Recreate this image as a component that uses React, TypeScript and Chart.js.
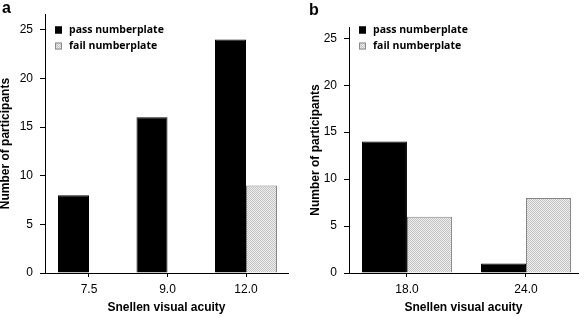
import React, { useEffect, useRef } from "react";
import { Chart, registerables } from "chart.js";

Chart.register(...registerables);

// ---- data ----
const categoriesA = ["7.5", "9.0", "12.0"];
const passA = [8, 16, 24];
const failA = [0, 0, 9];

const categoriesB = ["18.0", "24.0"];
const passB = [14, 1];
const failB = [6, 8];

const yTickValues = [0, 5, 10, 15, 20, 25];
const seriesNames = ["pass numberplate", "fail numberplate"];
const xTitle = "Snellen visual acuity";
const yTitle = "Number of participants";

const FONT = '"Liberation Sans", Arial, sans-serif';
const LEGEND_FONT = '"Open Sans", "DejaVu Sans", sans-serif';

function makePattern(ctx: CanvasRenderingContext2D) {
  const c = document.createElement("canvas");
  c.width = 2;
  c.height = 2;
  const p = c.getContext("2d")!;
  p.fillStyle = "#efefef";
  p.fillRect(0, 0, 2, 2);
  p.fillStyle = "#c2c2c2";
  p.fillRect(0, 0, 1, 1);
  p.fillRect(1, 1, 1, 1);
  return ctx.createPattern(c, "repeat")!;
}

const decorPlugin = {
  id: "decor",
  afterDraw(chart: any, _args: any, opts: any) {
    const ctx: CanvasRenderingContext2D = chart.ctx;
    const left = chart.chartArea.left;
    const pattern = makePattern(ctx);
    ctx.save();
    // panel letter
    ctx.fillStyle = "#000";
    ctx.font = `bold 16px ${FONT}`;
    ctx.textBaseline = "alphabetic";
    ctx.textAlign = "left";
    ctx.fillText(opts.letter, opts.letterX, opts.letterY);
    // legend
    const rows = [
      { fill: "#000", stroke: "#000" },
      { fill: pattern, stroke: "#8a8a8a" },
    ];
    ctx.font = `bold 10.5px ${LEGEND_FONT}`;
    ctx.textBaseline = "middle";
    rows.forEach((r, i) => {
      const y = opts.rowY[i];
      ctx.fillStyle = r.fill as any;
      ctx.fillRect(left + 10, y - 3.5, 7, 7);
      ctx.strokeStyle = r.stroke;
      ctx.lineWidth = 1;
      ctx.strokeRect(left + 10.5, y - 3, 6, 6);
      ctx.fillStyle = "#000";
      ctx.fillText(seriesNames[i], left + 24, y);
    });
    ctx.restore();
  },
};

type PanelProps = {
  width: number;
  labels: string[];
  pass: number[];
  fail: number[];
  xMin: number;
  xMax: number;
  yMax: number;
  padLeft: number;
  padRight: number;
  padTop: number;
  yScaleWidth: number;
  catPct: number;
  letter: string;
  letterX: number;
  letterY: number;
};

function Panel(p: PanelProps) {
  const ref = useRef<HTMLCanvasElement | null>(null);
  useEffect(() => {
    const canvas = ref.current!;
    const ctx = canvas.getContext("2d")!;
    const pattern = makePattern(ctx);
    const xs = p.labels.map((_, i) => i);
    const chart = new Chart(canvas, {
      type: "bar",
      data: {
        datasets: [
          {
            label: seriesNames[0],
            data: xs.map((x) => ({ x, y: p.pass[x] })),
            backgroundColor: "#000",
            borderColor: "#000",
            borderWidth: 1,
            categoryPercentage: p.catPct,
            barPercentage: 1,
          } as any,
          {
            label: seriesNames[1],
            data: xs.map((x) => ({ x, y: p.fail[x] })),
            backgroundColor: pattern,
            borderColor: "#858585",
            borderWidth: 1,
            categoryPercentage: p.catPct,
            barPercentage: 1,
          } as any,
        ],
      },
      options: {
        responsive: false,
        devicePixelRatio: 1,
        animation: false,
        layout: {
          padding: { left: p.padLeft, right: p.padRight, top: p.padTop, bottom: 0 },
        },
        plugins: {
          legend: { display: false },
          tooltip: { enabled: false },
          decor: {
            letter: p.letter,
            letterX: p.letterX,
            letterY: p.letterY,
            rowY: [30, 46],
          },
        } as any,
        scales: {
          x: {
            type: "linear",
            min: p.xMin,
            max: p.xMax,
            offset: false,
            grid: {
              offset: false,
              drawOnChartArea: false,
              drawTicks: true,
              tickLength: 4,
              color: "#000",
            },
            border: { display: true, color: "#000", width: 1 },
            afterBuildTicks: (scale: any) => {
              scale.ticks = xs.map((v) => ({ value: v }));
            },
            afterFit: (scale: any) => {
              scale.height = 43;
            },
            ticks: {
              padding: 5.5,
              color: "#000",
              font: { family: FONT, size: 12 },
              callback: (v: any) => p.labels[v] ?? "",
            },
            title: {
              display: true,
              text: xTitle,
              color: "#000",
              font: { family: FONT, size: 12, weight: "bold" },
              padding: { top: 0, bottom: 1 },
            },
          },
          y: {
            type: "linear",
            min: 0,
            max: p.yMax,
            grid: {
              drawOnChartArea: false,
              drawTicks: true,
              tickLength: 5,
              color: "#000",
            },
            border: { display: true, color: "#000", width: 1 },
            afterBuildTicks: (scale: any) => {
              scale.ticks = yTickValues.map((v) => ({ value: v }));
            },
            afterFit: (scale: any) => {
              scale.width = p.yScaleWidth;
            },
            ticks: {
              padding: 7,
              color: "#000",
              font: { family: FONT, size: 12 },
            },
            title: {
              display: true,
              text: yTitle,
              color: "#000",
              font: { family: FONT, size: 12, weight: "bold", lineHeight: 1 },
              padding: { top: 0, bottom: 0 },
            },
          },
        },
      },
      plugins: [decorPlugin],
    } as any);
    return () => chart.destroy();
  }, []);
  return (
    <canvas
      ref={ref}
      width={p.width}
      height={316}
      style={{ display: "block", width: p.width, height: 316 }}
    />
  );
}

export default function App() {
  return (
    <div
      style={{
        position: "absolute",
        left: 0,
        top: 0,
        width: 584,
        height: 316,
        background: "#fff",
        display: "flex",
      }}
    >
      <Panel
        width={290}
        labels={categoriesA}
        pass={passA}
        fail={failA}
        xMin={-0.5605}
        xMax={2.535}
        yMax={26.6}
        padLeft={0}
        padRight={2}
        padTop={13}
        yScaleWidth={45}
        catPct={0.79}
        letter="a"
        letterX={2}
        letterY={13}
      />
      <Panel
        width={294}
        labels={categoriesB}
        pass={passB}
        fail={failB}
        xMin={-0.487}
        xMax={1.437}
        yMax={26.2}
        padLeft={20}
        padRight={6}
        padTop={27}
        yScaleWidth={39}
        catPct={0.756}
        letter="b"
        letterX={19}
        letterY={15}
      />
    </div>
  );
}
